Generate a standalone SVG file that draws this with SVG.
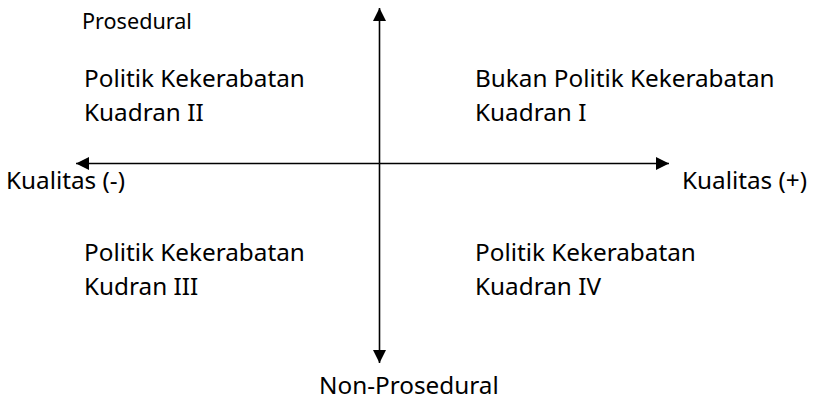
<svg xmlns="http://www.w3.org/2000/svg" width="813" height="402" viewBox="0 0 813 402">
  <style>
    text { font-family: "Noto Sans", "Open Sans", "DejaVu Sans", sans-serif; fill: #000; }
    .lbl { font-size: 24.3px; }
    .small { font-size: 21.6px; }
    .axis { stroke: #000; stroke-width: 1.6; fill: none; }
  </style>
  <defs>
    <marker id="arrow" markerUnits="userSpaceOnUse" markerWidth="14" markerHeight="13" refX="13" refY="6.5" orient="auto">
      <path d="M0,0 L13,6.5 L0,13 z" fill="#000"/>
    </marker>
  </defs>
  <rect width="813" height="402" fill="#fff"/>
  <g id="connectors">
    <line class="axis" x1="379.5" y1="163.5" x2="379.5" y2="8" marker-end="url(#arrow)"/>
    <line class="axis" x1="379.5" y1="163.5" x2="379.5" y2="363" marker-end="url(#arrow)"/>
    <line class="axis" x1="379.5" y1="163.5" x2="76" y2="163.5" marker-end="url(#arrow)"/>
    <line class="axis" x1="379.5" y1="163.5" x2="669" y2="163.5" marker-end="url(#arrow)"/>
  </g>
  <g id="label-prosedural"><text class="small" x="82" y="29">Prosedural</text></g>
  <g id="label-non-prosedural"><text class="lbl" x="319" y="394">Non-Prosedural</text></g>
  <g id="label-kualitas-neg"><text class="lbl" x="6" y="189">Kualitas (-)</text></g>
  <g id="label-kualitas-pos"><text class="lbl" x="682" y="189">Kualitas (+)</text></g>
  <g id="quadrant-1">
    <text class="lbl" x="475" y="87">Bukan Politik Kekerabatan</text>
    <text class="lbl" x="475" y="121">Kuadran I</text>
  </g>
  <g id="quadrant-2">
    <text class="lbl" x="84" y="87">Politik Kekerabatan</text>
    <text class="lbl" x="84" y="121">Kuadran II</text>
  </g>
  <g id="quadrant-3">
    <text class="lbl" x="84" y="261">Politik Kekerabatan</text>
    <text class="lbl" x="84" y="295">Kudran III</text>
  </g>
  <g id="quadrant-4">
    <text class="lbl" x="475" y="261">Politik Kekerabatan</text>
    <text class="lbl" x="475" y="295">Kuadran IV</text>
  </g>
</svg>
